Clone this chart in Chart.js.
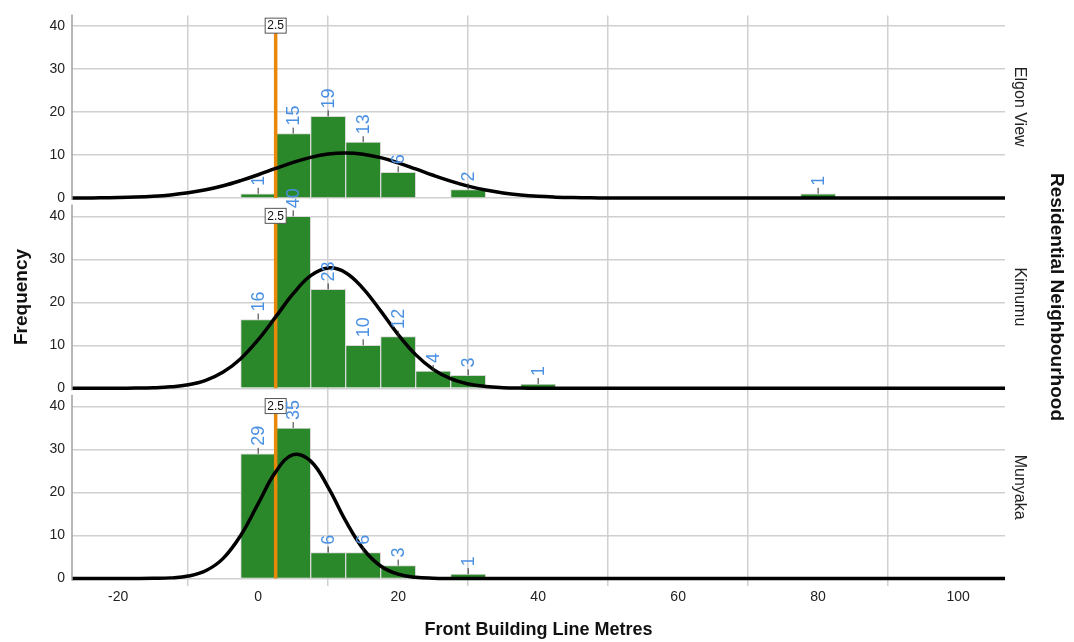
<!DOCTYPE html>
<html>
<head>
<meta charset="utf-8">
<script src="https://cdn.jsdelivr.net/npm/chart.js@4.4.1/dist/chart.umd.min.js"></script>
<style>
  html, body { margin: 0; padding: 0; background: #fff; }
  #wrap { width: 1074px; height: 642px; }
</style>
</head>
<body>
<div id="wrap"><canvas id="chart" width="1074" height="642"></canvas></div>
<script>
const panelNames = ['Elgon View', 'Kimumu', 'Munyaka'];

// histogram bins (bin centre, metres) and frequencies
const elgonBins = [0, 5, 10, 15, 20, 30, 80];
const elgonCounts = [1, 15, 19, 13, 6, 2, 1];
const kimumuBins = [0, 5, 10, 15, 20, 25, 30, 40];
const kimumuCounts = [16, 40, 23, 10, 12, 4, 3, 1];
const munyakaBins = [0, 5, 10, 15, 20, 30];
const munyakaCounts = [29, 35, 6, 6, 3, 1];

// normal curves
const curveX = [-26.6, -25, -22.5, -20, -17.5, -15, -12.5, -10, -7.5, -5, -2.5, 0, 2.5, 5, 7.5, 10, 12.5, 15, 17.5, 20,
    22.5, 25, 27.5, 30, 32.5, 35, 37.5, 40, 42.5, 45, 47.5, 50, 60, 80, 106.7];
const elgonCurve = [0.02, 0.03, 0.06, 0.12, 0.23, 0.42, 0.73, 1.22, 1.92, 2.86, 4.06, 5.43, 6.9, 8.3, 9.47, 10.25, 10.5, 10.2, 9.4, 8.19,
    6.78, 5.31, 3.95, 2.78, 1.86, 1.17, 0.71, 0.4, 0.22, 0.11, 0.05, 0.02, 0, 0, 0];
const kimumuCurve = [0, 0, 0, 0.01, 0.04, 0.12, 0.33, 0.82, 1.86, 3.78, 6.89, 11.3, 16.6, 22, 26.2, 28, 26.9, 23.2, 18, 12.5,
    7.83, 4.4, 2.22, 1.01, 0.41, 0.15, 0.05, 0.01, 0, 0, 0, 0, 0, 0, 0];
const munyakaCurve = [0, 0, 0, 0, 0, 0.03, 0.14, 0.56, 1.79, 4.68, 10, 17.4, 24.8, 28.8, 27.3, 21.2, 13.4, 6.9, 2.91, 1,
    0.28, 0.06, 0.01, 0, 0, 0, 0, 0, 0, 0, 0, 0, 0, 0, 0];

const cutoff = 2.5;
const xTicks = [-20, 0, 20, 40, 60, 80, 100];
const yTicks = [0, 10, 20, 30, 40];

const FONT = 'Arial, "Liberation Sans", sans-serif';
const GRID = '#d0d0d0';

const binSets = [[elgonBins, elgonCounts], [kimumuBins, kimumuCounts], [munyakaBins, munyakaCounts]];
const curveSets = [elgonCurve, kimumuCurve, munyakaCurve];

// stacked axes are laid out bottom-up, so the top panel gets the last axis
const axisOf = (i) => 'y' + (panelNames.length - 1 - i);

const datasets = [];
panelNames.forEach((name, i) => {
    const axis = axisOf(i);
    datasets.push({
        type: 'line',
        label: name + ' normal',
        data: curveX.map((x, k) => ({ x: x, y: curveSets[i][k] })),
        borderColor: '#000',
        borderWidth: 3.5,
        pointRadius: 0,
        tension: 0.4,
        yAxisID: axis,
        order: 0
    });
    datasets.push({
        type: 'line',
        label: name + ' cutoff',
        data: [{ x: cutoff, y: 0 }, { x: cutoff, y: 40 }],
        borderColor: '#e8890c',
        borderWidth: 3.5,
        pointRadius: 0,
        yAxisID: axis,
        order: 1,
        isCutoff: true
    });
    datasets.push({
        type: 'bar',
        label: name,
        data: binSets[i][0].map((x, k) => ({ x: x, y: binSets[i][1][k] })),
        backgroundColor: '#2a872a',
        borderColor: '#d8d8d8',
        borderWidth: 1,
        barPercentage: 1,
        categoryPercentage: 1,
        grouped: false,
        yAxisID: axis,
        order: 2
    });
});

function yScale() {
    return {
        type: 'linear',
        position: 'left',
        stack: 'panels',
        stackWeight: 1,
        min: -1.75,
        max: 42.5,
        afterBuildTicks: (s) => { s.ticks = yTicks.map(v => ({ value: v })); },
        afterFit: (s) => { s.width = 72; },
        grid: { color: GRID, lineWidth: 1.5, drawTicks: false },
        border: { display: false },
        ticks: { font: { family: FONT, size: 14 }, color: '#222', padding: 7 }
    };
}

const labelPlugin = {
    id: 'labels',
    afterDatasetsDraw(chart) {
        const ctx = chart.ctx;
        chart.data.datasets.forEach((ds, di) => {
            const meta = chart.getDatasetMeta(di);
            if (ds.type === 'bar') {
                meta.data.forEach((el, k) => {
                    ctx.save();
                    ctx.strokeStyle = '#333';
                    ctx.lineWidth = 1;
                    ctx.beginPath();
                    ctx.moveTo(el.x, el.y);
                    ctx.lineTo(el.x, el.y - 6);
                    ctx.stroke();
                    ctx.translate(el.x, el.y - 8);
                    ctx.rotate(-Math.PI / 2);
                    ctx.fillStyle = '#4a90e2';
                    ctx.font = '18px ' + FONT;
                    ctx.textAlign = 'left';
                    ctx.textBaseline = 'middle';
                    ctx.fillText(String(ds.data[k].y), 0, 1);
                    ctx.restore();
                });
            } else if (ds.isCutoff) {
                const top = meta.data[1];
                ctx.save();
                ctx.fillStyle = '#fff';
                ctx.strokeStyle = '#555';
                ctx.lineWidth = 1;
                ctx.fillRect(top.x - 10.5, top.y - 8, 21, 15);
                ctx.strokeRect(top.x - 10.5, top.y - 8, 21, 15);
                ctx.fillStyle = '#111';
                ctx.font = '12px ' + FONT;
                ctx.textAlign = 'center';
                ctx.textBaseline = 'middle';
                ctx.fillText(String(cutoff), top.x, top.y);
                ctx.restore();
            }
        });
    },
    afterDraw(chart) {
        const ctx = chart.ctx;
        const area = chart.chartArea;
        ctx.save();

        // left axis line, broken between panels
        ctx.strokeStyle = '#a0a0a0';
        ctx.lineWidth = 1.5;
        panelNames.forEach((name, i) => {
            const s = chart.scales[axisOf(i)];
            ctx.beginPath();
            ctx.moveTo(area.left, s.top - 1);
            ctx.lineTo(area.left, s.getPixelForValue(0) + 2);
            ctx.stroke();
        });

        ctx.fillStyle = '#111';
        ctx.textAlign = 'center';
        ctx.textBaseline = 'middle';

        ctx.font = 'bold 18px ' + FONT;
        ctx.fillText('Front Building Line Metres', (area.left + area.right) / 2, 630);

        ctx.save();
        ctx.translate(22, 297);
        ctx.rotate(-Math.PI / 2);
        ctx.font = 'bold 19px ' + FONT;
        ctx.fillText('Frequency', 0, 0);
        ctx.restore();

        ctx.save();
        ctx.translate(1056, 297);
        ctx.rotate(Math.PI / 2);
        ctx.font = 'bold 19px ' + FONT;
        ctx.fillText('Residential Neighbourhood', 0, 0);
        ctx.restore();

        panelNames.forEach((name, i) => {
            const s = chart.scales[axisOf(i)];
            const cy = (s.top + s.getPixelForValue(0)) / 2;
            ctx.save();
            ctx.translate(1019, cy);
            ctx.rotate(Math.PI / 2);
            ctx.font = '16px ' + FONT;
            ctx.fillStyle = '#222';
            ctx.fillText(name, 0, 0);
            ctx.restore();
        });
        ctx.restore();
    }
};

new Chart(document.getElementById('chart'), {
    type: 'bar',
    data: { datasets: datasets },
    options: {
        responsive: false,
        animation: false,
        layout: { padding: { top: 15, right: 69, bottom: 0, left: 0 } },
        plugins: { legend: { display: false }, tooltip: { enabled: false } },
        scales: {
            x: {
                type: 'linear',
                min: -26.6,
                max: 106.7,
                offset: false,
                afterBuildTicks: (s) => { s.ticks = xTicks.map(v => ({ value: v })); },
                afterFit: (s) => { s.height = 56; },
                grid: { color: GRID, lineWidth: 1.5, drawTicks: false },
                border: { display: false },
                ticks: { font: { family: FONT, size: 14 }, color: '#222', padding: 3 }
            },
            y0: yScale(),
            y1: yScale(),
            y2: yScale()
        }
    },
    plugins: [labelPlugin]
});
</script>
</body>
</html>
